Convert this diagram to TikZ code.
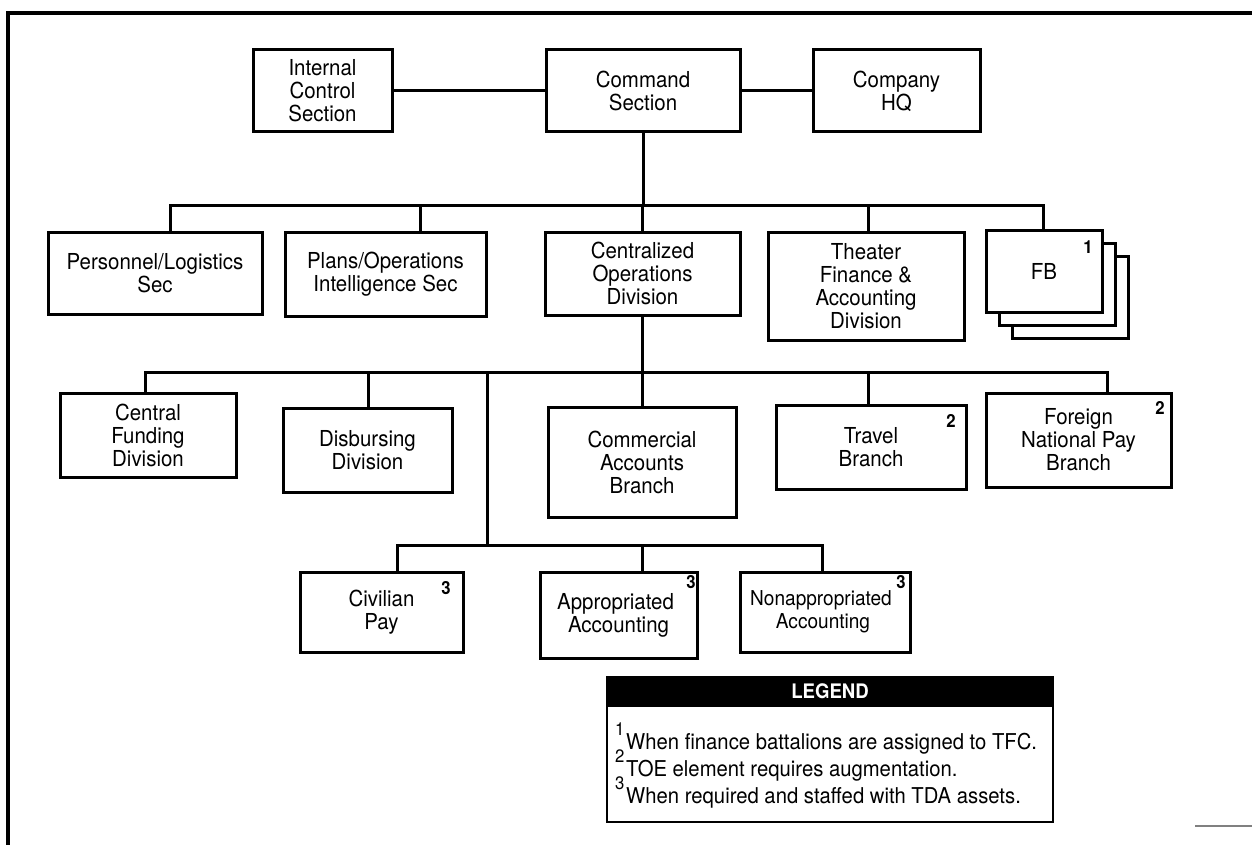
\documentclass[tikz,border=0pt]{standalone}
\usepackage{fontspec}
\setmainfont{TeX Gyre Heros}[FakeStretch=0.93]
\usetikzlibrary{calc}
\tikzset{
  box/.style={draw, line width=3pt, fill=white, align=center, inner sep=0pt,
    font=\fontsize{22}{23}\selectfont},
  conn/.style={line width=3pt},
  sup/.style={font=\fontsize{18}{18}\selectfont\bfseries, inner sep=0pt},
  lsup/.style={font=\fontsize{18}{18}\selectfont, inner sep=0pt, anchor=base west},
  ltext/.style={font=\fontsize{21.8}{23}\selectfont, inner sep=0pt, anchor=base west},
}
\begin{document}
\begin{tikzpicture}[x=1pt,y=-1pt]
\useasboundingbox (0,0) rectangle (1252,845);
% frame
\draw[line width=4pt] (1252,13) -- (8,13) -- (8,845);
\draw[line width=2pt, gray] (1195,826) -- (1252,826);

% row 1
\node[box, minimum width=139pt, minimum height=82pt] (ics) at (322.5,91) {Internal\\Control\\Section};
\node[box, minimum width=194pt, minimum height=82pt] (cs) at (643,91) {Command\\Section};
\node[box, minimum width=167pt, minimum height=82pt] (hq) at (896.5,91) {Company\\HQ};
\draw[conn] (ics.east) -- (cs.west);
\draw[conn] (cs.east) -- (hq.west);

% row 2
\node[box, minimum width=214pt, minimum height=82pt] (pl) at (155,273) {Personnel/Logistics\\Sec};
\node[box, minimum width=201pt, minimum height=84pt] (po) at (385.5,274) {Plans/Operations\\Intelligence Sec};
\node[box, minimum width=195pt, minimum height=83pt] (cod) at (642.5,273.5) {Centralized\\Operations\\Division};
\node[box, minimum width=196pt, minimum height=108pt] (tfad) at (866,286) {Theater\\Finance \&\\Accounting\\Division};
\node[box, minimum width=116pt, minimum height=82pt] (fb3) at (1070,297) {};
\node[box, minimum width=116pt, minimum height=82pt] (fb2) at (1057,284) {};
\node[box, minimum width=116pt, minimum height=82pt] (fb) at (1044,271) {FB};
\node[sup] (fbs) at (1088,247) {1};

\coordinate (b2l) at (170,205);
\coordinate (b2r) at (1043,205);
\coordinate (d2a) at (420,205);
\coordinate (d2b) at (868,205);
\draw[conn] (cs.south) -- (cs.south |- b2l);
\draw[conn] (b2l |- pl.north) -- (b2l) -- (b2r) -- (b2r |- fb.north);
\draw[conn] (d2a) -- (d2a |- po.north);
\draw[conn] (cod.north |- b2l) -- (cod.north);
\draw[conn] (d2b) -- (d2b |- tfad.north);

% row 3
\node[box, minimum width=176pt, minimum height=84pt] (cfd) at (148,435) {Central\\Funding\\Division};
\node[box, minimum width=169pt, minimum height=84pt] (dd) at (367.5,450) {Disbursing\\Division};
\node[box, minimum width=188pt, minimum height=110pt] (cab) at (642,462) {Commercial\\Accounts\\Branch};
\node[box, minimum width=190pt, minimum height=84pt] (tb) at (871,447) {Travel\\Branch};
\node[box, minimum width=185pt, minimum height=94pt] (fnpb) at (1078.5,440) {Foreign\\National Pay\\Branch};
\node[sup] (tbs) at (951,421) {2};
\node[sup] (fnpbs) at (1160,408) {2};

\coordinate (b3l) at (145,372);
\coordinate (b3r) at (1107,372);
\coordinate (d3a) at (368,372);
\coordinate (d3t) at (487,372);
\coordinate (d3b) at (868,372);
\draw[conn] (cod.south) -- (cod.south |- b3l);
\draw[conn] (b3l |- cfd.north) -- (b3l) -- (b3r) -- (b3r |- fnpb.north);
\draw[conn] (d3a) -- (d3a |- dd.north);
\draw[conn] (cab.north |- b3l) -- (cab.north);
\draw[conn] (d3b) -- (d3b |- tb.north);

% row 4
\node[box, minimum width=163pt, minimum height=80pt] (civ) at (381.5,612) {Civilian\\Pay};
\node[box, minimum width=157pt, minimum height=86pt] (app) at (618.5,615) {Appropriated\hspace*{6pt}\\Accounting};
\node[box, minimum width=170pt, minimum height=80pt, font=\fontsize{20.5}{23}\selectfont] (nap) at (825,612) {Nonappropriated\hspace*{8pt}\\Accounting\hspace*{4pt}};
\node[sup] (civs) at (446,588) {3};
\node[sup] (apps) at (691,582) {3};
\node[sup] (naps) at (901,582) {3};

\coordinate (b4l) at (397,545);
\coordinate (b4m) at (642,545);
\coordinate (b4r) at (822,545);
\draw[conn] (d3t) -- (d3t |- b4l);
\draw[conn] (b4l |- civ.north) -- (b4l) -- (b4r) -- (b4r |- nap.north);
\draw[conn] (b4m) -- (b4m |- app.north);

% legend
\node[draw, line width=2pt, fill=white, minimum width=446pt, minimum height=145pt, inner sep=0pt] (leg) at (830,749.5) {};
\node[fill=black, minimum width=446pt, minimum height=31pt, inner sep=0pt, anchor=north,
  text=white, font=\fontsize{20}{20}\selectfont\bfseries] (legh) at (leg.north) {LEGEND};
\node[lsup] (l1n) at (615,735) {1};
\node[ltext] (l1) at (626,749) {When finance battalions are assigned to TFC.};
\node[lsup] (l2n) at (615,762) {2};
\node[ltext] (l2) at (626,776) {TOE element requires augmentation.};
\node[lsup] (l3n) at (615,789) {3};
\node[ltext] (l3) at (626,803) {When required and staffed with TDA assets.};
\end{tikzpicture}
\end{document}
